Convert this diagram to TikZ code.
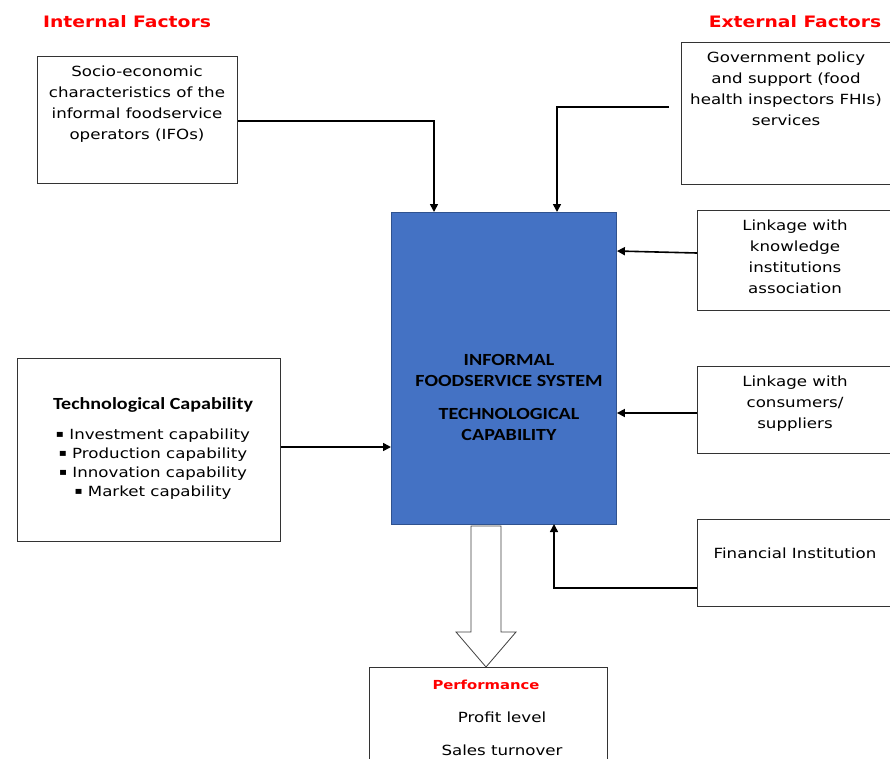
\documentclass[tikz,border=0pt]{standalone}
\usepackage{fontspec}
\setmainfont{DejaVu Sans}[FakeStretch=1.19]
\newfontfamily\carl{Carlito}[FakeStretch=1.18]
\usetikzlibrary{arrows.meta}
\definecolor{boxblue}{HTML}{4472C4}
\definecolor{boxblueline}{HTML}{2F528F}
\definecolor{titlered}{HTML}{FF0000}
\tikzset{
  frame/.style={draw=black!80, line width=0.9pt, fill=white, inner sep=0pt, anchor=north west},
  body/.style={font=\fontsize{14}{21}\selectfont, align=center, inner sep=0pt, text=black},
  ttl/.style={font=\bfseries\fontsize{15.75}{20}\selectfont, text=titlered, inner sep=0pt},
  blue/.style={font=\carl\bfseries\fontsize{17}{21}\selectfont, align=center, inner sep=0pt},
  conn/.style={line width=1.6pt, -{Triangle[length=8pt,width=8pt]}},
}
\newcommand{\sqb}{\raisebox{2pt}{\fontsize{10}{10}\selectfont ▪}}
\begin{document}
\begin{tikzpicture}[x=1pt,y=-1pt]
\useasboundingbox (0,0) rectangle (890,758);
% titles
\node[ttl] (tin) at (127,22) {Internal Factors};
\node[ttl] (tex) at (795,22) {External Factors};
% boxes
\node[frame, minimum width=200pt, minimum height=127pt] (soc) at (37,56) {};
\node[frame, minimum width=215pt, minimum height=142pt] (gov) at (681,42) {};
\node[frame, minimum width=200pt, minimum height=100pt] (kno) at (697,210) {};
\node[frame, minimum width=200pt, minimum height=87pt] (con) at (697,366) {};
\node[frame, minimum width=200pt, minimum height=87pt] (fin) at (697,519) {};
\node[frame, minimum width=263pt, minimum height=183pt] (tec) at (17,358) {};
\node[draw=boxblueline, fill=boxblue, line width=0.9pt, inner sep=0pt, anchor=north west,
      minimum width=225pt, minimum height=312pt] (ifs) at (391,212) {};
\node[frame, minimum width=238pt, minimum height=100pt] (per) at (369,667) {};
% texts
\node[body, anchor=north] (soct) at (137,66) {Socio-economic\\characteristics of the\\informal foodservice\\operators (IFOs)};
\node[body, anchor=north] (govt) at (786,52) {Government policy\\and support (food\\health inspectors FHIs)\\services};
\node[body, anchor=north] (knot) at (795,220) {Linkage with\\knowledge\\institutions\\association};
\node[body, anchor=north] (cont) at (795,376) {Linkage with\\consumers/\\suppliers};
\node[body] (fint) at (795,553) {Financial Institution};
\node[font=\carl\bfseries\fontsize{17}{20}\selectfont, inner sep=0pt] (tect) at (153,405) {Technological Capability};
\node[body, anchor=north, font=\fontsize{14}{19}\selectfont] (tecl) at (153,429) {\sqb\ Investment capability\\\sqb\ Production capability\\\sqb\ Innovation capability\\\sqb\ Market capability};
\node[blue] (ifs1) at (509,370) {INFORMAL\\FOODSERVICE SYSTEM};
\node[blue] (ifs2) at (509,424) {TECHNOLOGICAL\\CAPABILITY};
\node[font=\bfseries\fontsize{12.45}{16}\selectfont, text=titlered, inner sep=0pt] (pert) at (486,685) {Performance};
\node[body] (pro) at (502,717) {Profit level};
\node[body] (sal) at (502,750) {Sales turnover};
% connectors
\coordinate (govend) at (669,107);
\draw[conn] (soc.east |- 0,121) -| (434,212);
\draw[conn] (govend) -| (557,212);
\draw[conn] (kno.west |- 0,253) -- (ifs.east |- 0,251);
\draw[conn] (con.west |- 0,413) -- (ifs.east |- 0,413);
\draw[conn] (fin.west |- 0,588) -| (554,524);
\draw[conn] (tec.east |- 0,447) -- (ifs.west |- 0,447);
% hollow arrow
\coordinate (ha) at (486,667);
\draw[draw=black!75, line width=0.8pt, fill=white]
  (471,526) -- (501,526) -- (501,632) -- (516,632) -- (ha) -- (456,632) -- (471,632) -- cycle;
\end{tikzpicture}
\end{document}
